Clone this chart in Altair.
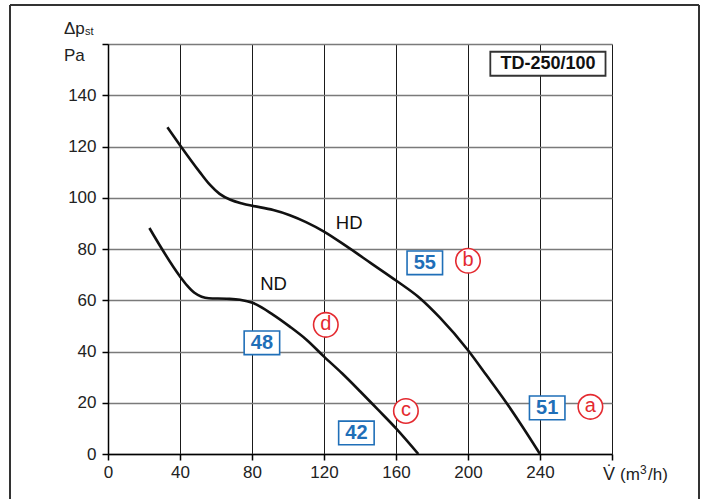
import altair as alt
import pandas as pd

# curve data (x: m3/h, y: Pa)
hd_x = [33, 40, 51, 56.7, 62, 68, 75, 80, 91.8, 101, 110, 120, 132.6, 146, 160.4, 173.3, 184.4, 200, 210.4, 221.5, 229, 240]
hd_y = [127.5, 120.5, 110, 105, 101.5, 99.2, 97.7, 96.9, 95.2, 93.2, 90.5, 86.8, 81, 74.5, 67.5, 60.8, 53.2, 40.5, 30.6, 19.8, 12, 0]
nd_x = [23, 40, 44, 48, 52, 56, 66, 73.3, 80.7, 91.8, 101, 110.4, 120, 130, 140, 150, 160, 172.4]
nd_y = [88.2, 69.3, 65.7, 62.9, 61.4, 60.8, 60.6, 60.2, 58.9, 54.3, 49.7, 44.5, 38, 31.5, 24.5, 17.3, 10, 0]

curve_labels = ["HD", "ND"]
curve_lx = [134, 92]
curve_ly = [90, 66.5]

box_labels = ["55", "48", "42", "51"]
box_x = [176, 85.5, 138, 244]
box_y = [74.6, 43.4, 8.2, 18]

circ_labels = ["b", "d", "c", "a"]
circ_x = [200, 121, 165.5, 268]
circ_y = [75.4, 50.4, 16.8, 18.4]

title_text = ["TD-250/100"]
title_x = [244.4]
title_y = [152.3]

x_ticks = [0, 40, 80, 120, 160, 200, 240, 280]
y_ticks = [0, 20, 40, 60, 80, 100, 120, 140, 160]

FONT = "Liberation Sans"
NARROW = "Liberation Sans Narrow, Liberation Sans"
BLUE = "#1f6fb8"
RED = "#e42a30"

curves = pd.DataFrame({
    "x": hd_x + nd_x,
    "y": hd_y + nd_y,
    "c": ["HD"] * len(hd_x) + ["ND"] * len(nd_x),
})
cl = pd.DataFrame({"t": curve_labels, "x": curve_lx, "y": curve_ly})
bx = pd.DataFrame({"t": box_labels, "x": box_x, "y": box_y})
cc = pd.DataFrame({"t": circ_labels, "x": circ_x, "y": circ_y})
tt = pd.DataFrame({"t": title_text, "x": title_x, "y": title_y})

xs = alt.Scale(domain=[0, 280], nice=False, zero=False)
ys = alt.Scale(domain=[0, 160], nice=False, zero=False)

xaxis = alt.Axis(values=x_ticks, title=None, grid=True, gridColor="#1a1a1a", gridWidth=1,
                 domainColor="#000", domainWidth=1.5, tickColor="#000", tickWidth=1.5,
                 tickSize=6, labelFont=FONT, labelFontSize=17, labelColor="#222",
                 labelPadding=4, labelExpr="datum.value == 280 ? '' : datum.label",
                 labelFlush=False)
yaxis = alt.Axis(values=y_ticks, title=None, grid=True, gridColor="#7a7a7a", gridWidth=1.5,
                 domainColor="#000", domainWidth=1.5, tickColor="#000", tickWidth=1.5,
                 tickSize=6, labelFont=FONT, labelFontSize=17, labelColor="#222",
                 labelPadding=6, labelExpr="datum.value == 160 ? '' : datum.label",
                 labelFlush=False)

base_x = alt.X("x:Q", scale=xs, axis=xaxis)
base_y = alt.Y("y:Q", scale=ys, axis=yaxis)

lines = alt.Chart(curves).mark_line(color="#111", strokeWidth=2.6, interpolate="monotone").encode(
    x=base_x, y=base_y, detail="c:N")

clabels = alt.Chart(cl).mark_text(font=FONT, fontSize=18.5, color="#111").encode(
    x=alt.X("x:Q", scale=xs), y=alt.Y("y:Q", scale=ys), text="t:N")

boxes = alt.Chart(bx).mark_point(shape="M-1.5,-1H1.5V1H-1.5Z", size=560, filled=False,
                                 fill="white", fillOpacity=1, stroke=BLUE, strokeWidth=1.6,
                                 opacity=1).encode(
    x=alt.X("x:Q", scale=xs), y=alt.Y("y:Q", scale=ys))
box_text = alt.Chart(bx).mark_text(font=NARROW, fontSize=20, fontWeight="bold", color=BLUE).encode(
    x=alt.X("x:Q", scale=xs), y=alt.Y("y:Q", scale=ys), text="t:N")

circles = alt.Chart(cc).mark_point(shape="circle", size=600, filled=False, fill="white",
                                   fillOpacity=1, stroke=RED, strokeWidth=1.6, opacity=1).encode(
    x=alt.X("x:Q", scale=xs), y=alt.Y("y:Q", scale=ys))
circ_text = alt.Chart(cc).mark_text(font=FONT, fontSize=20, color=RED, dy=-1).encode(
    x=alt.X("x:Q", scale=xs), y=alt.Y("y:Q", scale=ys), text="t:N")

tbox = alt.Chart(tt).mark_point(shape="M-2.4,-0.5H2.4V0.5H-2.4Z", size=2304, filled=False,
                                fill="white", fillOpacity=1, stroke="#333", strokeWidth=1.8,
                                opacity=1).encode(
    x=alt.X("x:Q", scale=xs), y=alt.Y("y:Q", scale=ys))
ttext = alt.Chart(tt).mark_text(font=FONT, fontSize=18, fontWeight="bold", color="#111").encode(
    x=alt.X("x:Q", scale=xs), y=alt.Y("y:Q", scale=ys), text="t:N")

# axis unit texts (pixel placement relative to plot area)
def ptext(t, px, py, size, align="left", baseline="alphabetic"):
    return alt.Chart(pd.DataFrame({"t": [t]})).mark_text(
        font=FONT, fontSize=size, color="#222", align=align, baseline=baseline).encode(
        x=alt.value(px), y=alt.value(py), text="t:N")

dp = ptext("Δp", -44, -10, 17)
st = ptext("st", -23, -9, 11)
pa = ptext("Pa", -44, 17, 17)
vdot = ptext("V̇", 501, 436, 18, align="center")
unit1 = ptext("(m", 512, 436, 17)
unit2 = ptext("3", 532, 430, 12)
unit3 = ptext("/h)", 540, 436, 17)

# outer frame
frame = pd.DataFrame({"a": [0]})
fl = alt.Chart(frame).mark_rule(color="#333", strokeWidth=2).encode(
    x=alt.value(-98), y=alt.value(-39), y2=alt.value(460))
ft = alt.Chart(frame).mark_rule(color="#333", strokeWidth=2).encode(
    x=alt.value(-98), x2=alt.value(591), y=alt.value(-39))
fr = alt.Chart(frame).mark_rule(color="#333", strokeWidth=2).encode(
    x=alt.value(591), y=alt.value(-39), y2=alt.value(460))

chart = alt.layer(lines, clabels, boxes, box_text, circles, circ_text, tbox, ttext,
                  dp, st, pa, vdot, unit1, unit2, unit3, fl, ft, fr).properties(
    width=504, height=410,
    autosize=alt.AutoSizeParams(type="none"),
    padding={"left": 108, "top": 44, "right": 90, "bottom": 45},
).configure_view(stroke="#222", strokeWidth=1.5).configure(background="white")

chart.save("out.html", embed_options={"renderer": "svg", "actions": False})
